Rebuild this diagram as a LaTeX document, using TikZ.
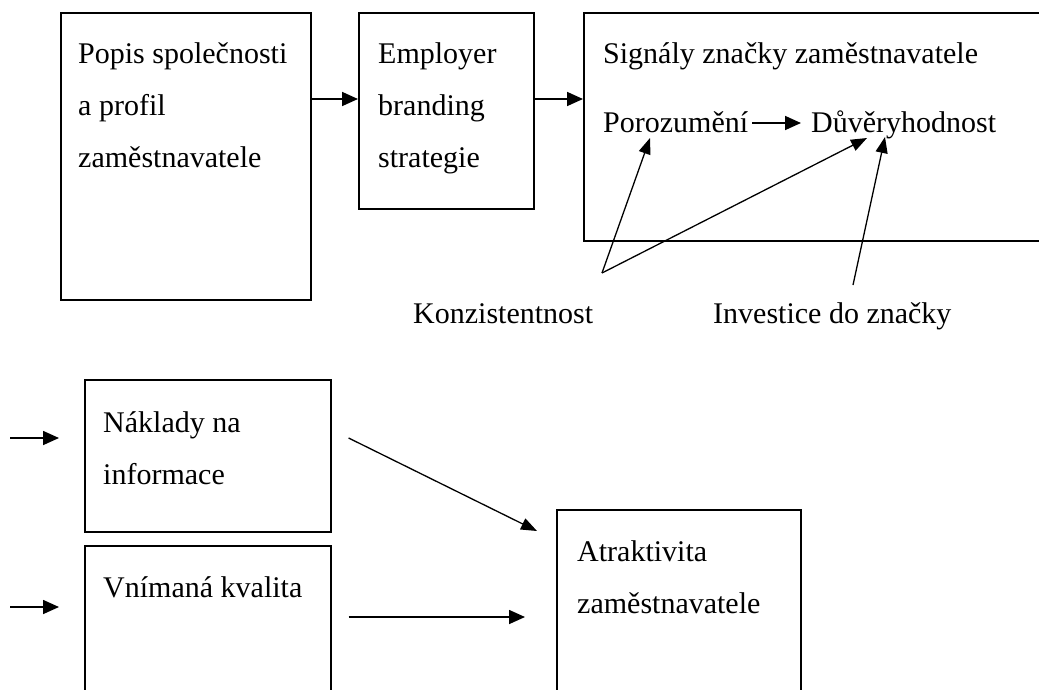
\documentclass[tikz,border=0pt]{standalone}
\usepackage{fontspec}
\setmainfont{Liberation Serif}
\usetikzlibrary{arrows.meta,calc}
\begin{document}
\begin{tikzpicture}[x=1pt,y=-1pt,
  box/.style={draw, line width=1.6pt, inner sep=0, anchor=north west},
  txt/.style={anchor=base west, align=left, inner sep=0, font=\fontsize{30}{52}\selectfont},
  arr/.style={line width=1.7pt, -{Triangle[length=16pt,width=14pt]}},
  thinarr/.style={line width=1.3pt, -{Triangle[length=16pt,width=12pt]}}]
\useasboundingbox (0,0) rectangle (1039,689);
% top row
\node[box, minimum width=250pt, minimum height=287pt] (b1) at (60,12) {};
\node[box, minimum width=175pt, minimum height=196pt] (b2) at (358,12) {};
\node[box, minimum width=520pt, minimum height=228pt] (b3) at (583,12) {};
% base anchor of a multi-line node = baseline of its last line
\node[txt] (t1) at (78,167) {Popis společnosti\\a profil\\zaměstnavatele};
\node[txt] (t2) at (378,167) {Employer\\branding\\strategie};
\node[txt] (t3) at (603,63) {Signály značky zaměstnavatele};
\coordinate (ya) at (0,99);
\draw[arr] (b1.east |- ya) -- (b2.west |- ya);
\draw[arr] (b2.east |- ya) -- (b3.west |- ya);
\node[txt] (p) at (603,132) {Porozumění};
\node[txt] (d) at (811,132) {Důvěryhodnost};
\draw[arr] ([shift={(4,-9)}]p.base east) -- ([shift={(-10,-9)}]d.base west);
\node[txt] (kt) at (413,323) {Konzistentnost};
\node[txt] (it) at (713,323) {Investice do značky};
\coordinate (k) at (602,273);
\coordinate (iv) at (853,285);
\draw[thinarr] (k) -- ([shift={(47,6)}]p.base west);
\draw[thinarr] (k) -- ([shift={(56,6)}]d.base west);
\draw[thinarr] (iv) -- ([shift={(74,5)}]d.base west);
% bottom
\node[box, minimum width=246pt, minimum height=152pt] (n) at (84,379) {};
\node[box, minimum width=246pt, minimum height=170pt] (v) at (84,545) {};
\node[box, minimum width=244pt, minimum height=200pt] (a) at (556,509) {};
\node[txt] (tn) at (103,484) {Náklady na\\informace};
\node[txt] (tv) at (103,597) {Vnímaná kvalita};
\node[txt] (ta) at (577,613) {Atraktivita\\zaměstnavatele};
\coordinate (l1) at (10,438);
\coordinate (l2) at (10,607);
\draw[arr, shorten >=25pt] (l1) -- (n.west |- l1);
\draw[arr, shorten >=25pt] (l2) -- (v.west |- l2);
\draw[thinarr] ([shift={(17,59)}]n.north east) -- ([shift={(-19,22)}]a.north west);
\draw[arr] ([shift={(17,72)}]v.north east) -- ([shift={(-31,108)}]a.north west);
\end{tikzpicture}
\end{document}
